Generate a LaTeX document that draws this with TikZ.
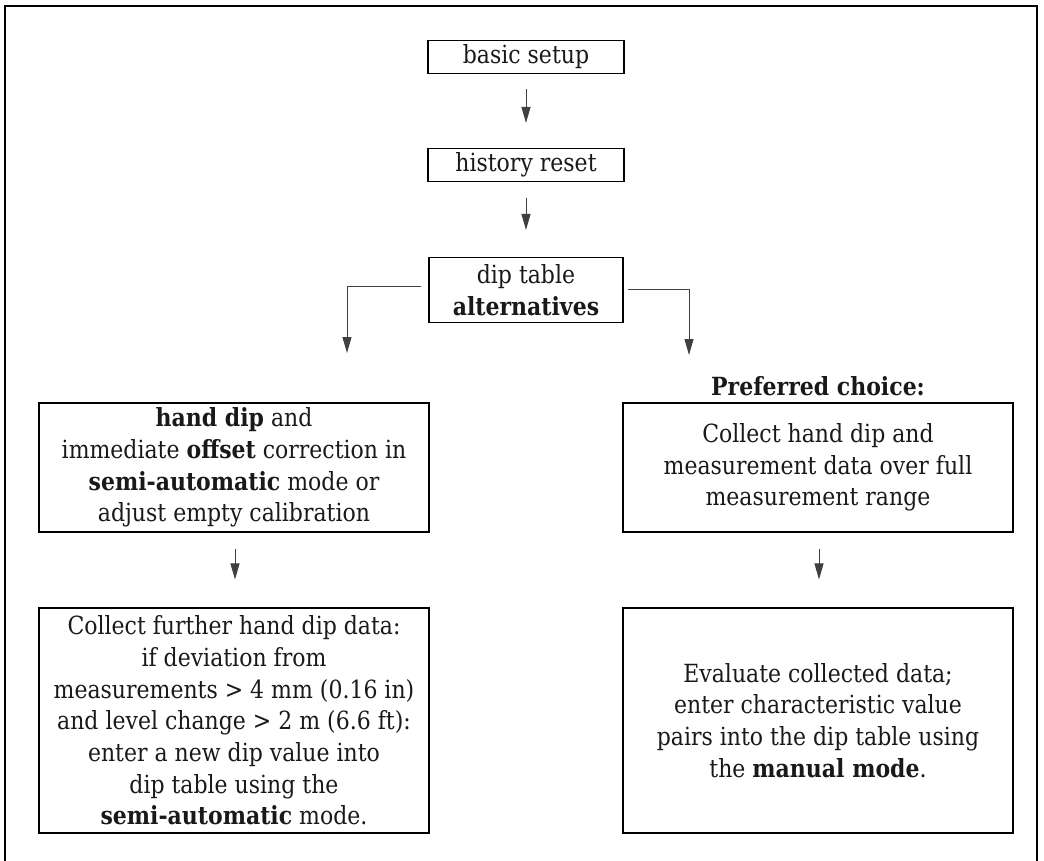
\documentclass[tikz,border=0pt]{standalone}
\usepackage{fontspec}
\setmainfont{DejaVu Serif}[FakeStretch=0.88]
\usetikzlibrary{arrows.meta}
\begin{document}
\begin{tikzpicture}[x=1pt,y=-1pt,
  box/.style={draw=black, line width=1.1pt, align=center, inner sep=0pt,
    font=\fontsize{25}{31.7}\selectfont, text=black!90},
  arr/.style={draw=black!75, line width=1pt, -{Triangle[length=16pt,width=9pt]}},
  lbl/.style={font=\fontsize{25}{31.7}\selectfont, text=black!90, inner sep=0pt}]
\useasboundingbox (0,0) rectangle (1044,861);
\draw[line width=1.1pt] (5,861) -- (5,6) -- (1037,6) -- (1037,861);

\node[box, minimum width=196pt, minimum height=33pt] (basic) at (526,57) {basic setup};
\node[box, minimum width=196pt, minimum height=33pt] (hist) at (526,165) {history reset};
\node[box, minimum width=194pt, minimum height=65pt] (dip) at (526,290) {dip table\\\textbf{alternatives}};

\node[box, minimum width=390pt, minimum height=129pt] (L1) at (234,467.5)
  {\textbf{hand dip} and\\immediate \textbf{offset} correction in\\\textbf{semi-automatic} mode or\\adjust empty calibration};
\node[box, minimum width=390pt, minimum height=225pt] (L2) at (234,720.5)
  {Collect further hand dip data:\\if deviation from\\measurements > 4 mm (0.16 in)\\and level change > 2 m (6.6 ft):\\enter a new dip value into\\dip table using the\\\textbf{semi-automatic} mode.};

\node[lbl, anchor=base] (pref) at (818,395) {\textbf{Preferred choice:}};
\node[box, minimum width=390pt, minimum height=129pt] (R1) at (818,467.5)
  {Collect hand dip and\\measurement data over full\\measurement range};
\node[box, minimum width=390pt, minimum height=225pt] (R2) at (818,720.5)
  {Evaluate collected data;\\enter characteristic value\\pairs into the dip table using\\the \textbf{manual mode}.};

\coordinate (lt) at (347,353);
\coordinate (rt) at (689,355);

\draw[arr] ([yshift=-15pt]basic.south) -- ([yshift=25pt]hist.north);
\draw[arr] ([yshift=-16pt]hist.south) -- ([yshift=27pt]dip.north);
\draw[arr] ([xshift=-7pt,yshift=4pt]dip.west) -| (lt);
\draw[arr] ([xshift=4pt,yshift=1pt]dip.east) -| (rt);
\draw[arr] ([xshift=1pt,yshift=-16pt]L1.south) -- ([xshift=1pt,yshift=28pt]L2.north);
\draw[arr] ([xshift=1pt,yshift=-16pt]R1.south) -- ([xshift=1pt,yshift=28pt]R2.north);
\end{tikzpicture}
\end{document}
